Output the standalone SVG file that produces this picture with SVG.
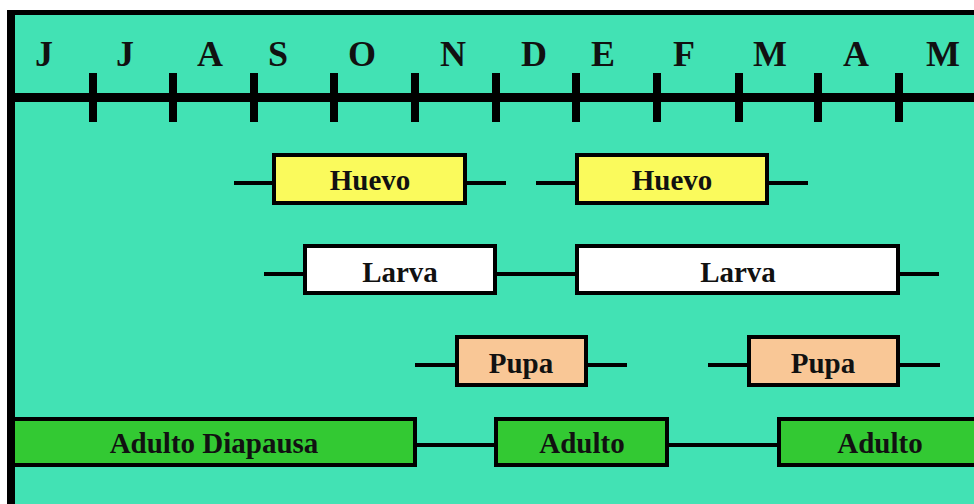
<svg xmlns="http://www.w3.org/2000/svg" width="974" height="504" viewBox="0 0 974 504">
<style>
.m{font-family:"Liberation Serif","Times New Roman",serif;font-weight:bold;font-size:36px;fill:#111;text-anchor:middle}
.l{font-family:"Liberation Serif","Times New Roman",serif;font-weight:bold;font-size:29px;fill:#111;text-anchor:middle}
.b{stroke:#000;stroke-width:4}
.c{stroke:#000;stroke-width:4;fill:none}
.t{fill:#000}
</style>
<rect x="0" y="0" width="974" height="504" fill="#fff"/>
<rect x="15" y="14" width="959" height="490" fill="#42E2B4"/>
<rect x="7" y="10" width="967" height="5" fill="#000"/>
<rect x="7" y="10" width="8" height="494" fill="#000"/>
<g id="axis">
<rect x="15" y="93" width="959" height="9" class="t"/>
<rect x="89" y="73" width="8" height="49" class="t"/>
<rect x="169" y="73" width="8" height="49" class="t"/>
<rect x="250" y="73" width="8" height="49" class="t"/>
<rect x="330" y="73" width="8" height="49" class="t"/>
<rect x="411" y="73" width="8" height="49" class="t"/>
<rect x="492" y="73" width="8" height="49" class="t"/>
<rect x="572" y="73" width="8" height="49" class="t"/>
<rect x="653" y="73" width="8" height="49" class="t"/>
<rect x="735" y="73" width="8" height="49" class="t"/>
<rect x="814" y="73" width="8" height="49" class="t"/>
<rect x="895" y="73" width="8" height="49" class="t"/>
<text class="m" x="44" y="66">J</text>
<text class="m" x="125" y="66">J</text>
<text class="m" x="210" y="66">A</text>
<text class="m" x="278" y="66">S</text>
<text class="m" x="362" y="66">O</text>
<text class="m" x="453" y="66">N</text>
<text class="m" x="534" y="66">D</text>
<text class="m" x="603" y="66">E</text>
<text class="m" x="684" y="66">F</text>
<text class="m" x="770" y="66">M</text>
<text class="m" x="856" y="66">A</text>
<text class="m" x="943" y="66">M</text>
</g>
<g id="connectors">
<line class="c" x1="234" y1="183" x2="272" y2="183"/>
<line class="c" x1="467" y1="183" x2="506" y2="183"/>
<line class="c" x1="536" y1="183" x2="575" y2="183"/>
<line class="c" x1="769" y1="183" x2="808" y2="183"/>
<line class="c" x1="264" y1="274" x2="303" y2="274"/>
<line class="c" x1="497" y1="274" x2="575" y2="274"/>
<line class="c" x1="900" y1="274" x2="939" y2="274"/>
<line class="c" x1="415" y1="365" x2="455" y2="365"/>
<line class="c" x1="588" y1="365" x2="627" y2="365"/>
<line class="c" x1="708" y1="365" x2="747" y2="365"/>
<line class="c" x1="900" y1="365" x2="940" y2="365"/>
<line class="c" x1="417" y1="445" x2="494" y2="445"/>
<line class="c" x1="669" y1="445" x2="777" y2="445"/>
</g>
<g id="huevo1"><rect class="b" x="274" y="155" width="191" height="48" fill="#FAFA5C"/><text class="l" x="370" y="190">Huevo</text></g>
<g id="huevo2"><rect class="b" x="577" y="155" width="190" height="48" fill="#FAFA5C"/><text class="l" x="672" y="190">Huevo</text></g>
<g id="larva1"><rect class="b" x="305" y="246" width="190" height="47" fill="#fff"/><text class="l" x="400" y="282">Larva</text></g>
<g id="larva2"><rect class="b" x="577" y="246" width="321" height="47" fill="#fff"/><text class="l" x="738" y="282">Larva</text></g>
<g id="pupa1"><rect class="b" x="457" y="337" width="129" height="48" fill="#F9C796"/><text class="l" x="521" y="373">Pupa</text></g>
<g id="pupa2"><rect class="b" x="749" y="337" width="149" height="48" fill="#F9C796"/><text class="l" x="823" y="373">Pupa</text></g>
<g id="adulto-diapausa"><rect class="b" x="13" y="419" width="402" height="46" fill="#33C933"/><text class="l" x="214" y="453">Adulto Diapausa</text></g>
<g id="adulto1"><rect class="b" x="496" y="419" width="171" height="46" fill="#33C933"/><text class="l" x="582" y="453">Adulto</text></g>
<g id="adulto2"><rect class="b" x="779" y="419" width="200" height="46" fill="#33C933"/><text class="l" x="880" y="453">Adulto</text></g>
</svg>
